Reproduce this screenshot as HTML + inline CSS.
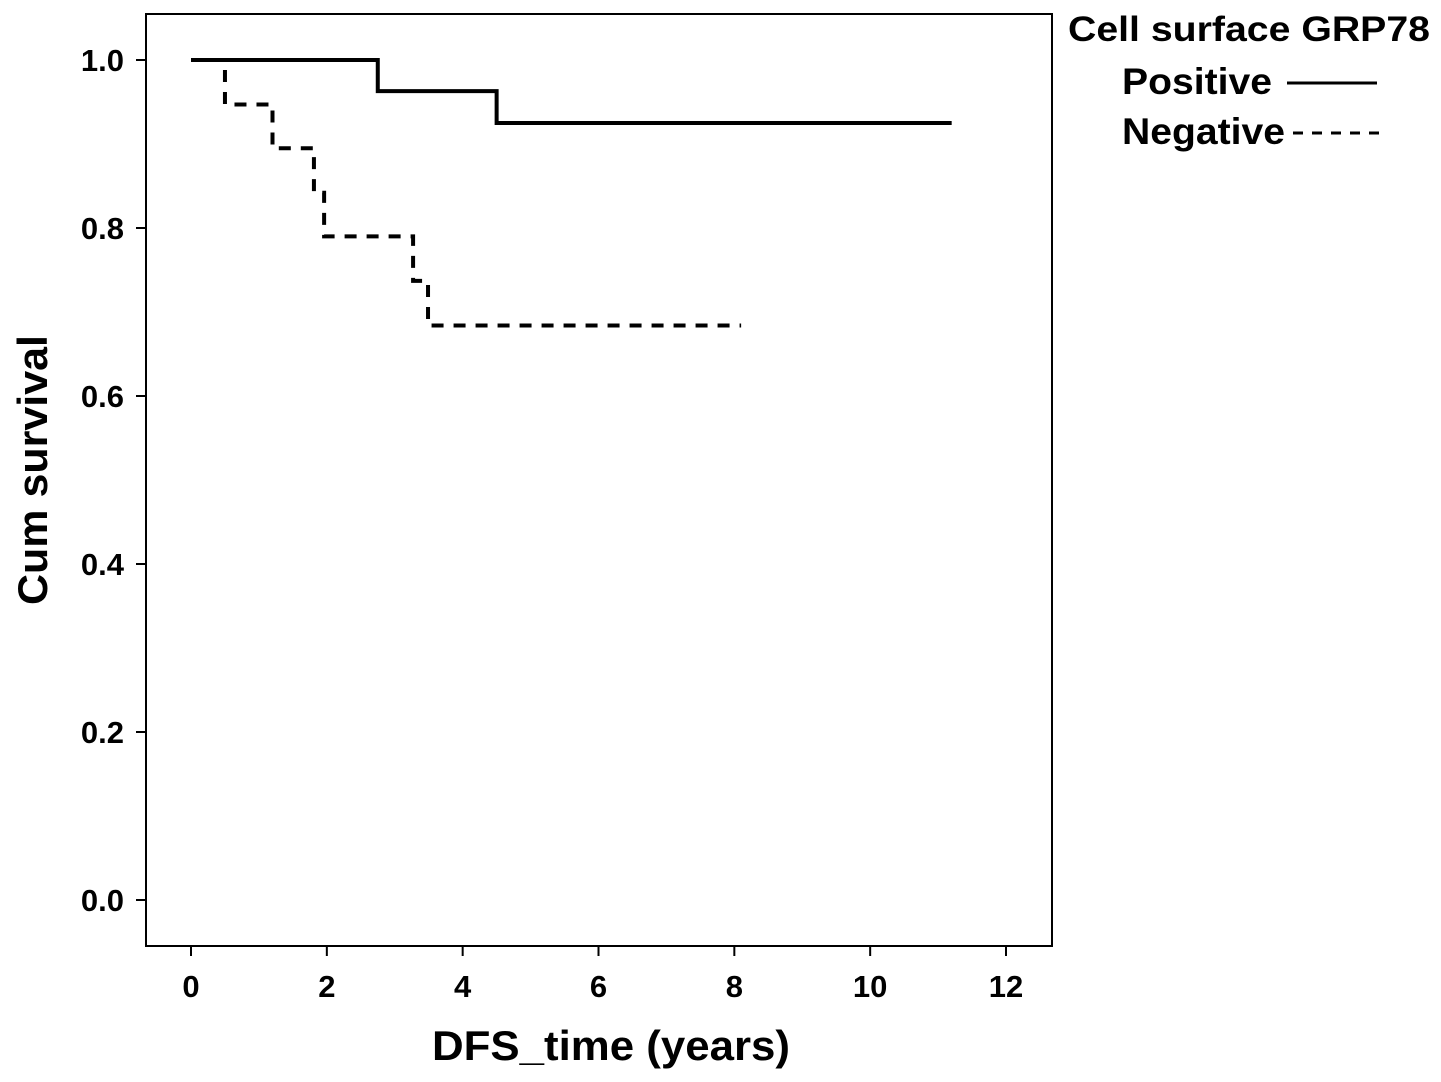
<!DOCTYPE html>
<html><head><meta charset="utf-8"><style>
body{margin:0;background:#fff;}
svg{display:block;font-family:"Liberation Sans",Arial,sans-serif;font-weight:bold;}
</style></head><body>
<svg width="1441" height="1082">
<rect x="146" y="14" width="906" height="932" fill="none" stroke="#000" stroke-width="2"/>
<g id="axes"></g>
<g id="series"></g>
<text x="432" y="1060" font-size="42" textLength="358" lengthAdjust="spacingAndGlyphs">DFS_time (years)</text>
<text transform="translate(47,605) rotate(-90)" font-size="42" textLength="270" lengthAdjust="spacingAndGlyphs">Cum survival</text>
<g>
<text x="1068" y="41" font-size="35" textLength="362" lengthAdjust="spacingAndGlyphs">Cell surface GRP78</text>
<g><text x="1122" y="94" font-size="37" textLength="150" lengthAdjust="spacingAndGlyphs">Positive</text><line x1="1287" y1="83" x2="1377" y2="83" stroke="#000" stroke-width="3"/></g>
<g><text x="1122" y="144" font-size="37" textLength="163" lengthAdjust="spacingAndGlyphs">Negative</text><line x1="1293" y1="133" x2="1385" y2="133" stroke="#000" stroke-width="3" stroke-dasharray="10,9"/></g>
</g>
</svg>
<script>
const xTicks=[0,2,4,6,8,10,12];
const yTicks=[0.0,0.2,0.4,0.6,0.8,1.0];
const posTimes=[0,2.75,4.5,11.2];
const posSurv=[1.0,0.963,0.925,0.925];
const negTimes=[0,0.5,1.2,1.81,1.96,3.27,3.49,8.1];
const negSurv=[1.0,0.947,0.895,0.842,0.79,0.737,0.684,0.684];
const X=t=>191+t*(1006-191)/12;
const Y=v=>900-v*840;
const NS='http://www.w3.org/2000/svg';
const axes=document.getElementById('axes');
xTicks.forEach(t=>{
 const l=document.createElementNS(NS,'line');
 l.setAttribute('x1',X(t));l.setAttribute('x2',X(t));l.setAttribute('y1',946);l.setAttribute('y2',956);l.setAttribute('stroke','#000');l.setAttribute('stroke-width',2);
 
 
 axes.appendChild(l);
 const tx=document.createElementNS(NS,'text');
 tx.setAttribute('x',X(t));tx.setAttribute('y',997);tx.setAttribute('font-size',31);tx.setAttribute('text-anchor','middle');tx.textContent=t;
 
 
 axes.appendChild(tx);
});
yTicks.forEach(v=>{
 const l=document.createElementNS(NS,'line');
 l.setAttribute('x1',136);l.setAttribute('x2',146);l.setAttribute('y1',Y(v));l.setAttribute('y2',Y(v));l.setAttribute('stroke','#000');l.setAttribute('stroke-width',2);
 
 
 axes.appendChild(l);
 const tx=document.createElementNS(NS,'text');
 tx.setAttribute('x',124);tx.setAttribute('y',Y(v)+11);tx.setAttribute('font-size',31);tx.setAttribute('text-anchor','end');tx.textContent=v.toFixed(1);
 
 
 axes.appendChild(tx);
});
function step(ts,ss){let d='M'+X(ts[0])+','+Y(ss[0]);for(let i=1;i<ts.length;i++){d+=' H'+X(ts[i])+' V'+Y(ss[i]);}return d;}
const g=document.getElementById('series');
const p1=document.createElementNS(NS,'path');
p1.setAttribute('d',step(posTimes,posSurv));p1.setAttribute('fill','none');p1.setAttribute('stroke','#000');p1.setAttribute('stroke-width',4);


g.appendChild(p1);
const p2=document.createElementNS(NS,'path');
p2.setAttribute('d',step(negTimes,negSurv));p2.setAttribute('fill','none');p2.setAttribute('stroke','#000');p2.setAttribute('stroke-width',4);p2.setAttribute('stroke-dasharray','12,10');


g.appendChild(p2);
</script>
</body></html>
